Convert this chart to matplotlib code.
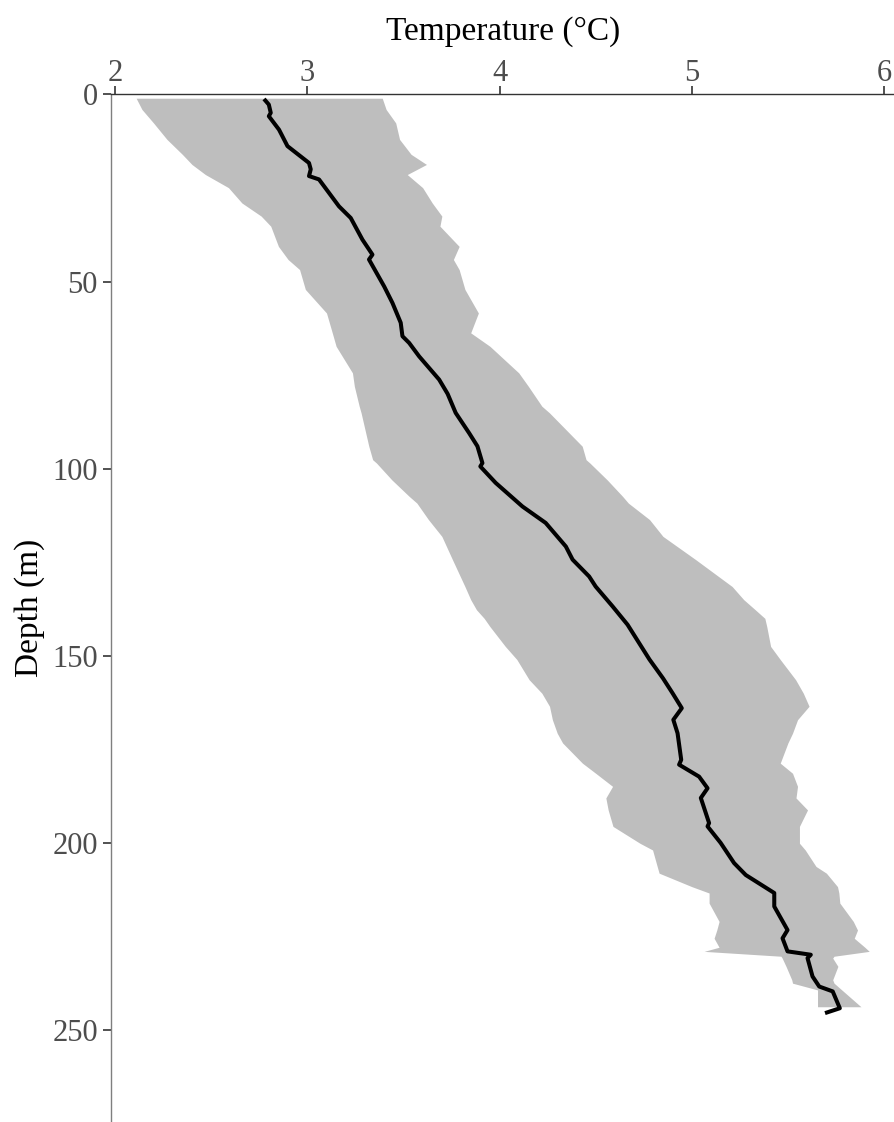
import matplotlib
matplotlib.use("Agg")
import matplotlib.pyplot as plt

# Temperature envelope (min / max) by depth
band_depth = [1, 4, 7.6, 12, 16, 18.7, 21.4, 24.9, 29, 32.5, 35.2, 40.6, 44.1, 46.8,
              52.1, 58.4, 63.7, 67.3, 74.4, 78, 83.3, 85.1, 94, 97.6, 98.5, 103,
              107.4, 109.2, 113.6, 118.1, 124.3, 131.5, 135, 137.7, 140, 142.2, 147.5,
              151, 156.4, 160, 163.5, 167.1, 170.7, 173.3, 178.7, 181.4, 184.9, 188,
              191.2, 195.6, 200.1, 201.9, 206.3, 208.1, 211.7, 213.4, 216.1, 221,
              223.3, 225.5, 227.9, 229, 230.3, 230.8, 233, 236.6, 237.5, 239.3, 243.8]
temp_low = [2.11, 2.14, 2.20, 2.27, 2.35, 2.40, 2.47, 2.59, 2.66, 2.76, 2.81, 2.85,
            2.90, 2.96, 2.99, 3.10, 3.13, 3.15, 3.235, 3.245, 3.27, 3.28, 3.32, 3.34,
            3.36, 3.44, 3.53, 3.57, 3.63, 3.70, 3.755, 3.82, 3.85, 3.88, 3.92, 3.95,
            4.03, 4.09, 4.154, 4.22, 4.26, 4.275, 4.30, 4.328, 4.431, 4.50, 4.588,
            4.553, 4.565, 4.59, 4.73, 4.796, 4.82, 4.83, 5.00, 5.09, 5.09, 5.142,
            5.13, 5.116, 5.142, 5.064, 5.464, 5.47, 5.49, 5.52, 5.524, 5.654, 5.654]
temp_high = [3.39, 3.41, 3.46, 3.48, 3.54, 3.62, 3.52, 3.60, 3.65, 3.70, 3.69, 3.79,
             3.76, 3.79, 3.82, 3.89, 3.85, 3.95, 4.10, 4.15, 4.22, 4.26, 4.43, 4.45,
             4.47, 4.56, 4.64, 4.67, 4.78, 4.85, 5.02, 5.21, 5.27, 5.33, 5.38, 5.39,
             5.41, 5.46, 5.54, 5.58, 5.61, 5.55, 5.524, 5.50, 5.46, 5.524, 5.55, 5.542,
             5.602, 5.56, 5.56, 5.59, 5.646, 5.70, 5.758, 5.765, 5.77, 5.84, 5.862,
             5.845, 5.90, 5.923, 5.74, 5.733, 5.76, 5.733, 5.74, 5.78, 5.88]

# Mean temperature profile
mean_depth = [1.2, 2.7, 4.9, 5.8, 9.4, 13.8, 18.3, 20, 21.8, 22.7, 26.3, 29.9, 33,
              38.8, 42.8, 44.1, 51.3, 55.7, 61, 64.6, 66.4, 70, 76.2, 80, 85.1, 90.5,
              94, 98.5, 99.4, 103.8, 110.1, 114.5, 120.8, 124.3, 128.8, 131.5, 136.8,
              141.7, 146.6, 151, 156, 160, 164, 167.1, 170.7, 177.8, 179.1, 182.3,
              185.4, 188, 194.7, 195.6, 200, 205.4, 208.6, 213.4, 217, 223.3, 225.5,
              229, 229.9, 230.8, 235.7, 238.4, 239.7, 244.2, 245.5]
mean_temp = [2.775, 2.80, 2.81, 2.80, 2.853, 2.897, 3.009, 3.018, 3.009, 3.061, 3.113,
             3.165, 3.226, 3.287, 3.339, 3.321, 3.40, 3.443, 3.486, 3.495, 3.53, 3.582,
             3.686, 3.73, 3.772, 3.842, 3.885, 3.911, 3.90, 3.98, 4.119, 4.24, 4.345,
             4.38, 4.466, 4.50, 4.588, 4.666, 4.726, 4.78, 4.85, 4.90, 4.948, 4.904,
             4.926, 4.945, 4.934, 5.038, 5.082, 5.047, 5.09, 5.082, 5.15, 5.22, 5.281,
             5.429, 5.429, 5.498, 5.472, 5.498, 5.619, 5.602, 5.628, 5.663, 5.733,
             5.77, 5.693]

x_ticks = [2, 3, 4, 5, 6]
y_ticks = [0, 50, 100, 150, 200, 250]

plt.rcParams['font.family'] = ['Liberation Serif', 'DejaVu Serif']

fig = plt.figure(figsize=(8.95, 11.22), dpi=100)
ax = fig.add_axes([0.124, 0.0, 0.876, 0.9158])

ax.fill_betweenx(band_depth, temp_low, temp_high, color='#BEBEBE', linewidth=0)
ax.plot(mean_temp, mean_depth, color='black', linewidth=2.9, solid_joinstyle='round',
        solid_capstyle='butt')

ax.set_xlim(1.979, 6.057)
ax.set_ylim(274.6, 0)

ax.xaxis.tick_top()
ax.xaxis.set_label_position('top')
ax.set_xticks(x_ticks)
ax.set_yticks(y_ticks)

ax.spines['right'].set_visible(False)
ax.spines['bottom'].set_visible(False)
ax.spines['top'].set_color('#333333')
ax.spines['left'].set_color('#7F7F7F')
ax.spines['top'].set_linewidth(1.0)
ax.spines['left'].set_linewidth(1.0)

ax.tick_params(axis='both', colors='#333333', labelcolor='#4D4D4D', labelsize=22,
               length=5.5, width=1.2)
ax.tick_params(axis='y', pad=4)
ax.tick_params(axis='x', pad=-1)
ax.set_xlabel('Temperature (°C)', fontsize=24, labelpad=14)
ax.set_ylabel('Depth (m)', fontsize=24, labelpad=5)

fig.savefig('out.png', dpi=100)
